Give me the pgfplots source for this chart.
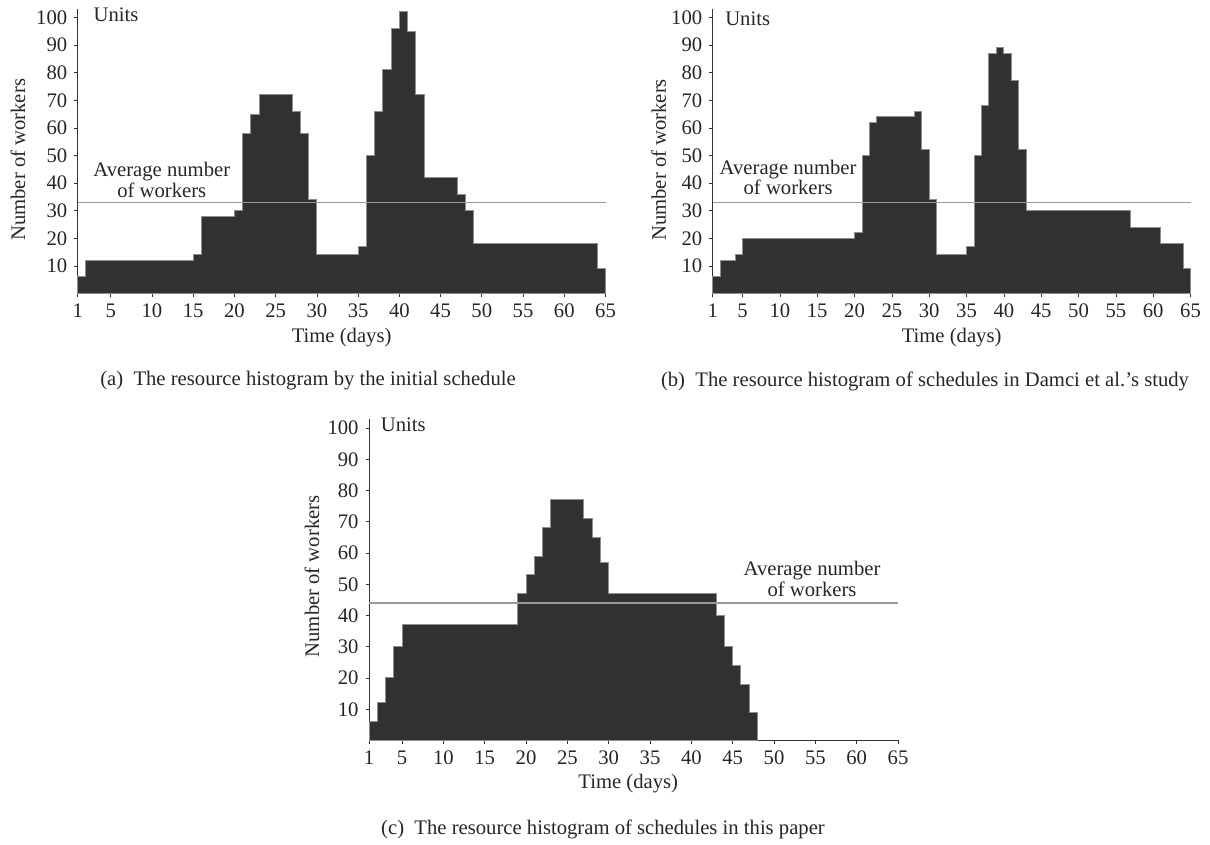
\documentclass[border=0pt]{standalone}
\usepackage{fontspec}
\setmainfont{Liberation Serif}
\usepackage{pgfplots}
\pgfplotsset{compat=1.18}
\definecolor{barfill}{HTML}{313131}
\definecolor{baredge}{HTML}{8E8E8E}
\definecolor{avgline}{HTML}{9A9A9A}
\definecolor{axcol}{HTML}{333333}
\pgfplotsset{
  histo/.style={
    scale only axis, clip=false,
    axis x line=bottom, axis y line=left,
    axis line style={-, axcol, line width=0.7bp},
    xmin=1, xmax=65, ymin=0, ymax=103,
    xtick={1,5,10,15,20,25,30,35,40,45,50,55,60,65},
    ytick={10,20,30,40,50,60,70,80,90,100},
    tick align=outside,
    major tick length=2.5bp,
    tick style={axcol, line width=0.5bp},
    /pgf/number format/assume math mode=true,
    tick label style={text=black!85},
    label style={text=black!85},
    xlabel={Time (days)},
    ylabel={Number of workers},
    ylabel style={at={(axis description cs:-0.113,0.47)}, anchor=center},
  },
  histfill/.style={const plot, fill=barfill, draw=baredge, line width=0.75bp},
  avg/.style={avgline, line width=1.1bp},
}
\begin{document}
\fontsize{15.5bp}{15.5bp}\selectfont
\begin{tikzpicture}
\useasboundingbox (0,0) rectangle (907.5bp,633.75bp);
% ---------- (a) ----------
\begin{axis}[histo, at={(58.28bp,413.63bp)}, anchor=south west,
  width=395.85bp, height=213.2bp,
  xlabel style={at={(axis description cs:0.5,-0.155)}, anchor=center}]
\addplot[histfill] coordinates {
 (1,6) (2,12) (15,14) (16,28) (20,30) (21,58) (22,65) (23,72) (27,66) (28,58)
 (29,34) (30,14) (35,17) (36,50) (37,66) (38,81) (39,96) (40,102) (41,95)
 (42,72) (43,42) (47,36) (48,30) (49,18) (64,9) (65,9)} \closedcycle;
\addplot[avg] coordinates {(1,33) (65,33)};
\node[anchor=west, inner sep=0pt, text=black!85] at (axis cs:2.9,101) {Units};
\node[align=center, inner sep=0pt, text=black!85] at (axis cs:11.2,41.1) {Average number\\of workers};
\end{axis}
% ---------- (b) ----------
\begin{axis}[histo, at={(534.53bp,413.63bp)}, anchor=south west,
  width=358.35bp, height=213.2bp,
  xlabel style={at={(axis description cs:0.5,-0.155)}, anchor=center}]
\addplot[histfill] coordinates {
 (1,6) (2,12) (4,14) (5,20) (20,22) (21,50) (22,62) (23,64) (28,66) (29,52)
 (30,34) (31,14) (35,17) (36,50) (37,68) (38,87) (39,89) (40,87) (41,77)
 (42,52) (43,30) (57,24) (61,18) (64,9) (65,9)} \closedcycle;
\addplot[avg] coordinates {(1,33) (65,33)};
\node[anchor=west, inner sep=0pt, text=black!85] at (axis cs:2.65,99.5) {Units};
\node[align=center, inner sep=0pt, text=black!85] at (axis cs:11.1,42.0) {Average number\\of workers};
\end{axis}
% ---------- (c) ----------
\begin{axis}[histo, at={(276.75bp,78.38bp)}, anchor=south west,
  width=396.75bp, height=241.4bp,
  xlabel style={at={(axis description cs:0.49,-0.135)}, anchor=center},
  ylabel style={at={(axis description cs:-0.108,0.51)}, anchor=center}]
\addplot[histfill] coordinates {
 (1,6) (2,12) (3,20) (4,30) (5,37) (19,47) (20,53) (21,59) (22,68) (23,77)
 (27,71) (28,65) (29,57) (30,47) (43,40) (44,30) (45,24) (46,18) (47,9) (48,9)} \closedcycle;
\addplot[avg] coordinates {(1,44) (65,44)};
\node[anchor=west, inner sep=0pt, text=black!85] at (axis cs:2.4,101) {Units};
\node[align=center, inner sep=0pt, text=black!85] at (axis cs:54.6,51.7) {Average number\\of workers};
\end{axis}
% ---------- captions ----------
\node[text=black!85] at (231bp,348bp) {(a)\hspace{0.5em}The resource histogram by the initial schedule};
\node[text=black!85] at (693.75bp,348bp) {(b)\hspace{0.5em}The resource histogram of schedules in Damci et al.’s study};
\node[text=black!85] at (452.25bp,12bp) {(c)\hspace{0.5em}The resource histogram of schedules in this paper};
\end{tikzpicture}
\end{document}
